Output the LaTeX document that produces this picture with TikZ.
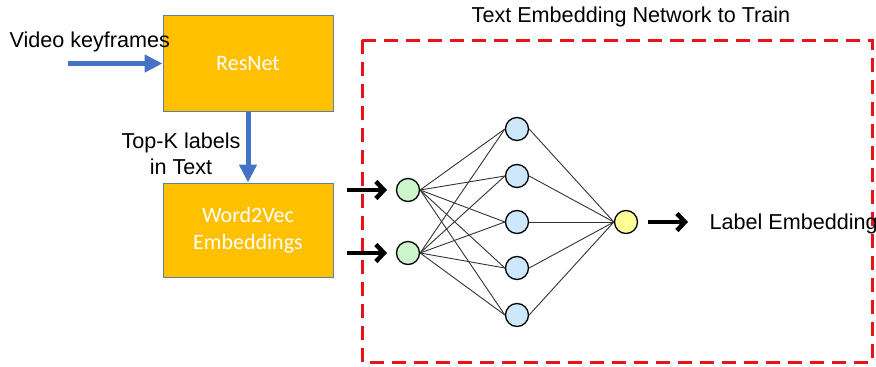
\documentclass[tikz,border=0pt]{standalone}
\usepackage{fontspec}
\setmainfont{Liberation Sans}
\newfontfamily\boxfont{Carlito}
\usetikzlibrary{arrows.meta}
\definecolor{boxorange}{HTML}{FFC000}
\definecolor{boxedge}{HTML}{5B7FA8}
\definecolor{flowblue}{HTML}{4472C4}
\definecolor{dashred}{HTML}{E8141C}
\definecolor{ingreen}{HTML}{CCF5CC}
\definecolor{hidblue}{HTML}{CCE8FA}
\definecolor{outyellow}{HTML}{FFFF99}
\tikzset{
  blockbox/.style={draw=boxedge, line width=1pt, fill=boxorange, minimum width=170pt, minimum height=96pt, align=center, text=white, font=\boxfont\fontsize{22}{27}\selectfont},
  txt/.style={font=\fontsize{21.6}{26}\selectfont, align=center},
  neuron/.style={circle, draw=black, line width=1.3pt, minimum size=23pt, inner sep=0pt},
  blueflow/.style={draw=flowblue, line width=5pt, -{Triangle[length=18pt,width=17pt]}},
  blackflow/.style={draw=black, line width=4.5pt, -{Straight Barb[length=8pt,width=17pt]}},
  link/.style={draw=black!80, line width=0.9pt}
}
\begin{document}
\begin{tikzpicture}[x=1pt,y=-1pt]
\useasboundingbox (0,0) rectangle (876,367);

% boxes on the left
\node[blockbox] (resnet) at (248,63.5) {ResNet};
\node[blockbox, minimum height=94pt] (w2v) at (248,230) {Word2Vec\\Embeddings};

\node[txt, anchor=west] (video) at (6,42) {Video keyframes};
\coordinate (vstart) at (68,63.5);
\draw[blueflow] (vstart) -- (resnet.west);
\draw[blueflow] (resnet.south) -- (w2v.north);
\node[txt, anchor=east] (topk) at (244,154) {Top-K labels\\in Text};

% network to train
\draw[dashred, line width=3pt, dash pattern=on 14pt off 8pt] (362,40) rectangle (872,362);
\node[txt] (title) at (631,17) {Text Embedding Network to Train};

\node[neuron, fill=ingreen] (i1) at (408,190) {};
\node[neuron, fill=ingreen] (i2) at (408,253) {};
\foreach \n/\y in {1/129,2/176,3/222,4/268,5/315}
  \node[neuron, fill=hidblue] (h\n) at (517,\y) {};
\node[neuron, fill=outyellow] (o) at (626,222) {};

\foreach \i in {1,2}
  \foreach \n in {1,...,5}
    \draw[link] (i\i.east) -- (h\n.west);
\foreach \n in {1,...,5}
  \draw[link] (h\n.east) -- (o.west);

\coordinate (a1) at (347,190);
\coordinate (b1) at (387,190);
\coordinate (a2) at (347,253);
\coordinate (b2) at (387,253);
\draw[blackflow] (a1) -- (b1);
\draw[blackflow] (a2) -- (b2);

\coordinate (c1) at (648,222);
\coordinate (c2) at (688,222);
\draw[blackflow] (c1) -- (c2);
\node[txt, anchor=west] (labemb) at (706,224) {Label Embedding};
\end{tikzpicture}
\end{document}
